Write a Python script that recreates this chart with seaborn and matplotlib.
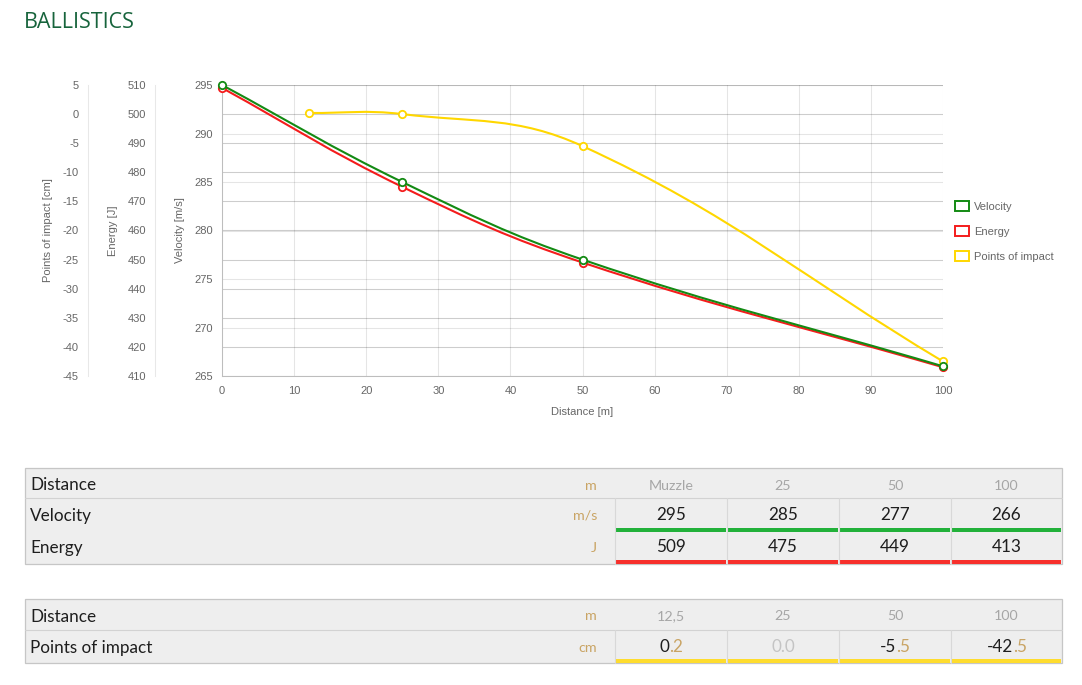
import numpy as np
import matplotlib
matplotlib.use("Agg")
import matplotlib.pyplot as plt
import seaborn as sns
from matplotlib.path import Path
from matplotlib.patches import PathPatch, Patch, Rectangle
from matplotlib.lines import Line2D
from matplotlib.offsetbox import TextArea, HPacker, AnnotationBbox

distance = [0, 25, 50, 100]
distance_labels = ["Muzzle", "25", "50", "100"]
velocity = [295, 285, 277, 266]
energy = [509, 475, 449, 413]
poi_distance = [12, 25, 50, 100]  # chart plots the first point at 12 m
poi_labels = ["12,5", "25", "50", "100"]
poi = [0.2, 0.0, -5.5, -42.5]

GREEN, RED, YELLOW = "#138a13", "#f41c1c", "#ffd700"
BAR_GREEN, BAR_RED, BAR_YELLOW = "#22b13a", "#f7302c", "#fedc2e"
TICK_COL = "#666666"

sns.set_style("white")
plt.rcParams["font.family"] = ["Liberation Sans", "DejaVu Sans"]
plt.rcParams["axes.unicode_minus"] = False

W, H = 1082, 685
fig = plt.figure(figsize=(W / 100, H / 100), dpi=100)


def fx(x):
    return x / W


def fy(y):
    return 1 - y / H


# ---- chart with three y scales ----
L, R, T, B = 222, 943, 85, 376
rect = [fx(L), fy(B), (R - L) / W, (B - T) / H]
ax_p = fig.add_axes(rect)
ax_e = fig.add_axes(rect)
ax_v = fig.add_axes(rect)
for a in (ax_e, ax_v):
    a.patch.set_visible(False)

axes_cfg = [
    (ax_p, (-45, 5), np.arange(-45, 10, 5), (88 - L) / (R - L), "Points of impact [cm]", (48 - L) / (R - L)),
    (ax_e, (410, 510), np.arange(410, 520, 10), (155 - L) / (R - L), "Energy [J]", (113 - L) / (R - L)),
    (ax_v, (265, 295), np.arange(265, 300, 5), 0.0, "Velocity [m/s]", (180 - L) / (R - L)),
]
for a, lim, ticks, pos, label, lab_x in axes_cfg:
    a.set_xlim(0, 100)
    a.set_ylim(*lim)
    a.set_yticks(ticks)
    a.yaxis.grid(True, color="black", alpha=0.1, lw=0.75)
    a.tick_params(axis="y", length=4.5, color="#e6e6e6", width=0.75, pad=2,
                  labelsize=8, labelcolor=TICK_COL)
    for s in ("top", "right", "bottom"):
        a.spines[s].set_visible(False)
    a.spines["left"].set_position(("axes", pos))
    a.spines["left"].set_color("#e8e8e8")
    a.spines["left"].set_linewidth(0.75)
    a.set_ylabel(label, fontsize=8, color=TICK_COL, va="center")
    a.yaxis.set_label_coords(lab_x, 0.5)
    if a is not ax_v:
        a.set_xticks([])

ax_v.set_xticks(np.arange(0, 110, 10))
ax_v.xaxis.grid(True, color="black", alpha=0.1, lw=0.75)
ax_v.tick_params(axis="x", length=0, pad=7, labelsize=8, labelcolor=TICK_COL)
ax_v.spines["left"].set_color("#bdbdbd")
ax_v.spines["bottom"].set_visible(True)
ax_v.spines["bottom"].set_color("#bdbdbd")
ax_v.spines["bottom"].set_linewidth(0.75)
ax_v.set_xlabel("Distance [m]", fontsize=8, color=TICK_COL, va="center")
ax_v.xaxis.set_label_coords(0.5, (B - 412) / (B - T))


def chart_curve(ax, trans, xs, ys, color, z, tension=0.4):
    # bezier spline the way the web chart draws it
    pts = trans.transform(np.column_stack([xs, ys]))
    n = len(pts)
    prev_c, next_c = [], []
    for i in range(n):
        p0 = pts[max(i - 1, 0)]
        p1 = pts[i]
        p2 = pts[min(i + 1, n - 1)]
        d01 = np.hypot(*(p1 - p0))
        d12 = np.hypot(*(p2 - p1))
        s01 = d01 / (d01 + d12)
        s12 = d12 / (d01 + d12)
        prev_c.append(p1 - tension * s01 * (p2 - p0))
        next_c.append(p1 + tension * s12 * (p2 - p0))
    verts = [pts[0]]
    codes = [Path.MOVETO]
    for i in range(n - 1):
        verts += [next_c[i], prev_c[i + 1], pts[i + 1]]
        codes += [Path.CURVE4] * 3
    verts = trans.inverted().transform(np.array(verts))
    ax.add_patch(PathPatch(Path(verts, codes), fill=False, edgecolor=color,
                           lw=1.5, transform=trans, zorder=z, clip_on=False))


series = [
    (poi_distance, poi, ax_p, YELLOW, 3),
    (distance, energy, ax_e, RED, 5),
    (distance, velocity, ax_v, GREEN, 7),
]
for xs, ys, src, col, z in series:
    sns.scatterplot(x=xs, y=ys, ax=ax_v, transform=src.transData, s=28,
                    color="white", edgecolor=col, linewidth=1.3, zorder=z + 1,
                    legend=False, clip_on=False)
ax_v.set_xlim(0, 100)
ax_v.set_ylim(265, 295)
for xs, ys, src, col, z in series:
    chart_curve(ax_v, src.transData, xs, ys, col, z)

handles = [Patch(facecolor="white", edgecolor=c, lw=1.4) for c in (GREEN, RED, YELLOW)]
leg = fig.legend(handles, ["Velocity", "Energy", "Points of impact"],
                 loc="upper left", bbox_to_anchor=(fx(955), fy(201)), frameon=False,
                 fontsize=8, labelcolor=TICK_COL, handlelength=1.3, handleheight=1.05,
                 labelspacing=1.25, handletextpad=0.45, borderaxespad=0, borderpad=0)

# ---- title ----
fig.text(fx(24), fy(22), "BALLISTICS", fontsize=15.5, color="#17643c",
         family=["Open Sans", "DejaVu Sans"], va="center", ha="left")

# ---- tables ----
TFONT = ["Lato", "DejaVu Sans"]
COLS = [615, 727, 839, 951, 1062]
UNIT_COL = "#c9a464"
HEAD_COL = "#a6a6a6"
DY = 1.5  # small nudge so text sits like the html table


def box(x0, y0, x1, y1, color, ec="none", lw=0):
    fig.add_artist(Rectangle((fx(x0), fy(y1)), (x1 - x0) / W, (y1 - y0) / H,
                             transform=fig.transFigure, facecolor=color,
                             edgecolor=ec, lw=lw))


def hline(x0, x1, y, color):
    fig.add_artist(Line2D([fx(x0), fx(x1)], [fy(y), fy(y)], color=color, lw=0.8,
                          transform=fig.transFigure))


def vline(x, y0, y1, color):
    fig.add_artist(Line2D([fx(x), fx(x)], [fy(y0), fy(y1)], color=color, lw=0.8,
                          transform=fig.transFigure))


def label(x, y, s, color="#1e1e1e", size=12.3, ha="left"):
    fig.text(fx(x), fy(y + DY), s, fontsize=size, color=color, family=TFONT,
             ha=ha, va="center")


def centers():
    return [(COLS[i] + COLS[i + 1]) / 2 for i in range(4)]


# table 1: velocity / energy
box(25, 468, 1062, 564, "#eeeeee", ec="#c6c6c6", lw=0.9)
hline(25, 1062, 498, "#d2d2d2")
for x in COLS[:-1]:
    vline(x, 498, 564, "#d8d8d8")
for i in range(4):
    box(COLS[i] + 1, 528, COLS[i + 1] - 1, 532, BAR_GREEN)
    box(COLS[i] + 1, 560, COLS[i + 1] - 1, 564, BAR_RED)
label(30, 484, "Distance")
label(30, 514, "Velocity")
label(30, 546, "Energy")
label(597, 484, "m", UNIT_COL, 10.3, "right")
label(597, 514, "m/s", UNIT_COL, 10.3, "right")
label(597, 546, "J", UNIT_COL, 10.3, "right")
for cx, d, v, e in zip(centers(), distance_labels, velocity, energy):
    label(cx, 484, d, HEAD_COL, 10.3, "center")
    label(cx, 514, str(v), ha="center")
    label(cx, 546, str(e), ha="center")

# table 2: points of impact
box(25, 599, 1062, 663, "#eeeeee", ec="#c6c6c6", lw=0.9)
hline(25, 1062, 630, "#d2d2d2")
for x in COLS[:-1]:
    vline(x, 630, 663, "#d8d8d8")
for i in range(4):
    box(COLS[i] + 1, 659, COLS[i + 1] - 1, 663, BAR_YELLOW)
label(30, 615, "Distance")
label(30, 646, "Points of impact")
label(597, 615, "m", UNIT_COL, 10.3, "right")
label(597, 646, "cm", UNIT_COL, 10.3, "right")
for cx, d, p in zip(centers(), poi_labels, poi):
    label(cx, 615, d, HEAD_COL, 10.3, "center")
    whole, frac = f"{p:.1f}".split(".")
    if p == 0:
        parts = [(whole + "." + frac, "#c4c4c4")]
    else:
        parts = [(whole, "#1e1e1e"), ("." + frac, UNIT_COL)]
    packed = HPacker(children=[TextArea(s, textprops=dict(color=c, fontsize=12.3, family=TFONT))
                               for s, c in parts], pad=0, sep=0)
    fig.add_artist(AnnotationBbox(packed, (fx(cx), fy(646 + DY)), xycoords="figure fraction",
                                  frameon=False, box_alignment=(0.5, 0.5), pad=0))

fig.savefig("out.png", dpi=100)
